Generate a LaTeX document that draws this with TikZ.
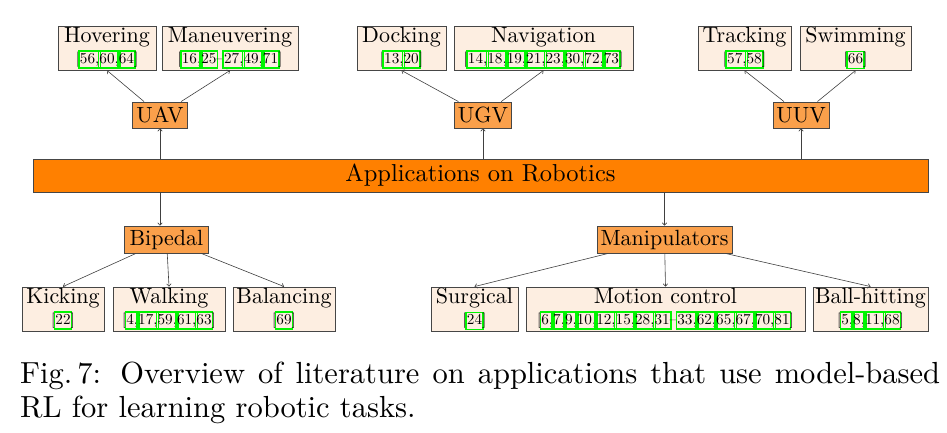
\documentclass[tikz,border=0pt]{standalone}
\usepackage{fontspec}
\setmainfont{lmroman10-regular}[Extension=.otf]
\usetikzlibrary{arrows.meta}
\definecolor{citegreen}{RGB}{0,245,0}
\definecolor{peach}{RGB}{253,238,225}
\definecolor{midorange}{RGB}{250,160,75}
\definecolor{barorange}{RGB}{255,128,0}
\definecolor{edgegray}{RGB}{70,70,70}
\newcommand{\cf}{\fontsize{15.2}{17}\selectfont}
\newcommand{\lf}{\fontsize{22}{24}\selectfont}
\newcommand{\cb}[1]{\hskip-1.8pt{\fboxsep=0.2pt\fboxrule=1.6pt\color{citegreen}\fbox{\color{black}\rule[-4pt]{0pt}{15pt}#1}}\hskip-1.8pt}
\tikzset{
  leafbox/.style={draw=edgegray, line width=0.9pt, fill=peach, align=center, inner sep=0pt, font=\lf},
  midbox/.style={draw=edgegray, line width=0.9pt, fill=midorange, inner sep=0pt, font=\lf},
  barbox/.style={draw=edgegray, line width=0.9pt, fill=barorange, inner sep=0pt, font=\fontsize{24.5}{28}\selectfont},
  conn/.style={draw=black!75, line width=0.6pt, -{To[length=3pt,width=5pt]}},
}
\begin{document}
\begin{tikzpicture}[x=1pt,y=-1pt]
\useasboundingbox (0,0) rectangle (947,433);
% top row
\node[leafbox, minimum width=98pt, minimum height=44pt] (hov) at (107,48) {Hovering\\[-3pt]{\cf[\cb{56,}\cb{60,}\cb{64}]}};
\node[leafbox, minimum width=136pt, minimum height=44pt] (mnv) at (230,48) {Maneuvering\\[-3pt]{\cf[\cb{16,}\cb{25}--\cb{27,}\cb{49,}\cb{71}]}};
\node[leafbox, minimum width=89pt, minimum height=44pt] (dock) at (401.5,48) {Docking\\[-3pt]{\cf[\cb{13,}\cb{20}]}};
\node[leafbox, minimum width=179pt, minimum height=44pt] (nav) at (543.5,48) {Navigation\\[-3pt]{\cf[\cb{14,}\cb{18,}\cb{19,}\cb{21,}\cb{23,}\cb{30,}\cb{72,}\cb{73}]}};
\node[leafbox, minimum width=93pt, minimum height=44pt] (trk) at (744.5,48) {Tracking\\[-3pt]{\cf[\cb{57,}\cb{58}]}};
\node[leafbox, minimum width=111pt, minimum height=44pt] (swm) at (855.5,48) {Swimming\\[-3pt]{\cf[\cb{66}]}};
% middle row
\node[midbox, minimum width=55pt, minimum height=26pt] (uav) at (160,115) {UAV};
\node[midbox, minimum width=57pt, minimum height=26pt] (ugv) at (483,115) {UGV};
\node[midbox, minimum width=56pt, minimum height=26pt] (uuv) at (801,115) {UUV};
% bar
\node[barbox, minimum width=895pt, minimum height=33pt] (bar) at (480.5,175.5) {Applications on Robotics};
% lower middle
\node[midbox, minimum width=84pt, minimum height=27pt] (bip) at (166.5,239.5) {Bipedal};
\node[midbox, minimum width=135pt, minimum height=27pt] (man) at (664.5,239.5) {Manipulators};
% bottom row
\node[leafbox, minimum width=82pt, minimum height=44pt] (kick) at (63,309) {Kicking\\[-3pt]{\cf[\cb{22}]}};
\node[leafbox, minimum width=112pt, minimum height=44pt] (walk) at (169,309) {Walking\\[-3pt]{\cf[\cb{4,}\cb{17,}\cb{59,}\cb{61,}\cb{63}]}};
\node[leafbox, minimum width=102pt, minimum height=44pt] (bal) at (284,309) {Balancing\\[-3pt]{\cf[\cb{69}]}};
\node[leafbox, minimum width=87pt, minimum height=44pt] (surg) at (474.5,309) {Surgical\\[-3pt]{\cf[\cb{24}]}};
\node[leafbox, minimum width=279pt, minimum height=44pt] (mot) at (665.5,309) {Motion control\\[-3pt]{\cf[\cb{6,}\cb{7,}\cb{9,}\cb{10,}\cb{12,}\cb{15,}\cb{28,}\cb{31}--\cb{33,}\cb{62,}\cb{65,}\cb{67,}\cb{70,}\cb{81}]}};
\node[leafbox, minimum width=115pt, minimum height=44pt] (ball) at (870.5,309) {Ball-hitting\\[-3pt]{\cf[\cb{5,}\cb{8,}\cb{11,}\cb{68}]}};
% connectors
\draw[conn] (bar.north -| uav) -- (uav.south);
\draw[conn] (bar.north -| ugv) -- (ugv.south);
\draw[conn] (bar.north -| uuv) -- (uuv.south);
\draw[conn] (bar.south -| uav) -- (bip.north -| uav);
\draw[conn] (bar.south -| man) -- (man.north);
\draw[conn] (uav) -- (hov.south);
\draw[conn] (uav) -- (mnv.south);
\draw[conn] (ugv) -- (dock.south);
\draw[conn] (ugv) -- (nav.south);
\draw[conn] (uuv) -- (trk.south);
\draw[conn] (uuv) -- (swm.south);
\draw[conn] (bip) -- (kick.north);
\draw[conn] (bip) -- (walk.north);
\draw[conn] (bip) -- (bal.north);
\draw[conn] (man) -- (surg.north);
\draw[conn] (man) -- (mot.north);
\draw[conn] (man) -- (ball.north);
% caption
\node[anchor=north west, inner sep=0pt, text width=920pt, align=justify, font=\fontsize{30.5}{34}\selectfont] (cap) at (20,362) {\hyphenpenalty=10000 Fig.\,7: Overview of literature on applications that use model-based\linebreak RL for learning robotic tasks.};
\end{tikzpicture}
\end{document}
